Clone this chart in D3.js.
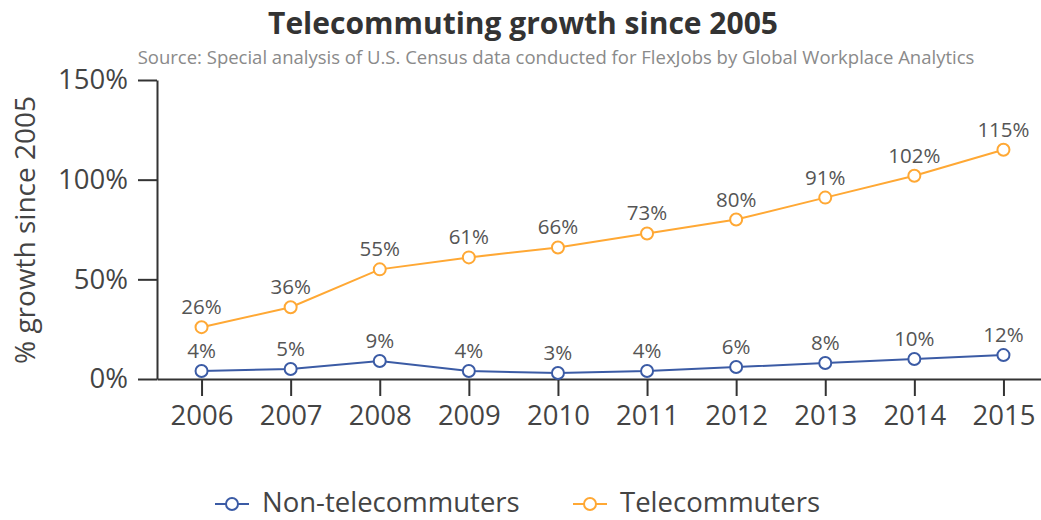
<!DOCTYPE html>
<html>
<head>
<meta charset="utf-8">
<script src="https://cdn.jsdelivr.net/npm/d3@7"></script>
<style>
  body { margin: 0; background: #fff; }
  text { font-family: "Open Sans", sans-serif; }
</style>
</head>
<body>
<div id="chart"></div>
<script>
var width = 1041;
var height = 520;

// data
var years = ["2006", "2007", "2008", "2009", "2010", "2011", "2012", "2013", "2014", "2015"];
var nonTelecommuters = [4, 5, 9, 4, 3, 4, 6, 8, 10, 12];
var telecommuters = [26, 36, 55, 61, 66, 73, 80, 91, 102, 115];
var yTicks = [0, 50, 100, 150];

var series = [
  { name: "Non-telecommuters", values: nonTelecommuters, color: "#3b5ba5" },
  { name: "Telecommuters", values: telecommuters, color: "#ffa834" }
];

var svg = d3.select("#chart").append("svg")
    .attr("width", width)
    .attr("height", height);

var x = d3.scalePoint()
    .domain(years)
    .range([157, 1048])
    .padding(0.5);

var y = d3.scaleLinear()
    .domain([0, 150])
    .range([379, 80]);

// title + source
svg.append("text")
    .attr("x", 523).attr("y", 34)
    .attr("text-anchor", "middle")
    .attr("font-size", 30)
    .attr("font-weight", "bold")
    .attr("fill", "#333")
    .text("Telecommuting growth since 2005");

svg.append("text")
    .attr("x", 556).attr("y", 64)
    .attr("text-anchor", "middle")
    .attr("font-size", 18.5)
    .attr("fill", "#8a8a8a")
    .text("Source: Special analysis of U.S. Census data conducted for FlexJobs by Global Workplace Analytics");

// axes
var yAxis = svg.append("g")
    .attr("transform", "translate(157,0)")
    .call(d3.axisLeft(y).tickValues(yTicks).tickFormat(function(d) { return d + "%"; }).tickSize(19).tickSizeOuter(0).tickPadding(10));

var xAxis = svg.append("g")
    .attr("transform", "translate(0,379)")
    .call(d3.axisBottom(x).tickSize(17).tickSizeOuter(0).tickPadding(6));

[xAxis, yAxis].forEach(function(a) {
  a.select(".domain").attr("stroke", "#333").attr("stroke-width", 2);
  a.selectAll(".tick line").attr("stroke", "#333").attr("stroke-width", 2);
  a.selectAll(".tick text")
      .attr("fill", "#444")
      .attr("font-family", "Open Sans, sans-serif")
      .attr("font-size", 27.5);
});
xAxis.selectAll(".tick text").attr("dy", "0.85em");

svg.append("text")
    .attr("transform", "translate(35,230) rotate(-90)")
    .attr("text-anchor", "middle")
    .attr("font-size", 28)
    .attr("fill", "#444")
    .text("% growth since 2005");

// lines, points, labels
var line = d3.line()
    .x(function(d, i) { return x(years[i]); })
    .y(function(d) { return y(d); });

series.forEach(function(s) {
  var g = svg.append("g");
  g.append("path")
      .datum(s.values)
      .attr("d", line)
      .attr("fill", "none")
      .attr("stroke", s.color)
      .attr("stroke-width", 2);

  g.selectAll("circle")
      .data(s.values)
      .enter().append("circle")
      .attr("cx", function(d, i) { return x(years[i]); })
      .attr("cy", function(d) { return y(d); })
      .attr("r", 6)
      .attr("fill", "#fff")
      .attr("stroke", s.color)
      .attr("stroke-width", 2);

  g.selectAll("text")
      .data(s.values)
      .enter().append("text")
      .attr("x", function(d, i) { return x(years[i]); })
      .attr("y", function(d) { return y(d) - 13; })
      .attr("text-anchor", "middle")
      .attr("font-size", 20.5)
      .attr("fill", "#555")
      .text(function(d) { return d + "%"; });
});

// legend
var legendX = [215, 573];
var legend = svg.selectAll(".legend")
    .data(series)
    .enter().append("g")
    .attr("class", "legend")
    .attr("transform", function(d, i) { return "translate(" + legendX[i] + ",504)"; });

legend.append("line")
    .attr("x1", 0).attr("x2", 34)
    .attr("stroke", function(d) { return d.color; })
    .attr("stroke-width", 2);

legend.append("circle")
    .attr("cx", 17).attr("r", 6)
    .attr("fill", "#fff")
    .attr("stroke", function(d) { return d.color; })
    .attr("stroke-width", 2);

legend.append("text")
    .attr("x", 47).attr("y", 8)
    .attr("font-size", 27.5)
    .attr("fill", "#444")
    .text(function(d) { return d.name; });
</script>
</body>
</html>
